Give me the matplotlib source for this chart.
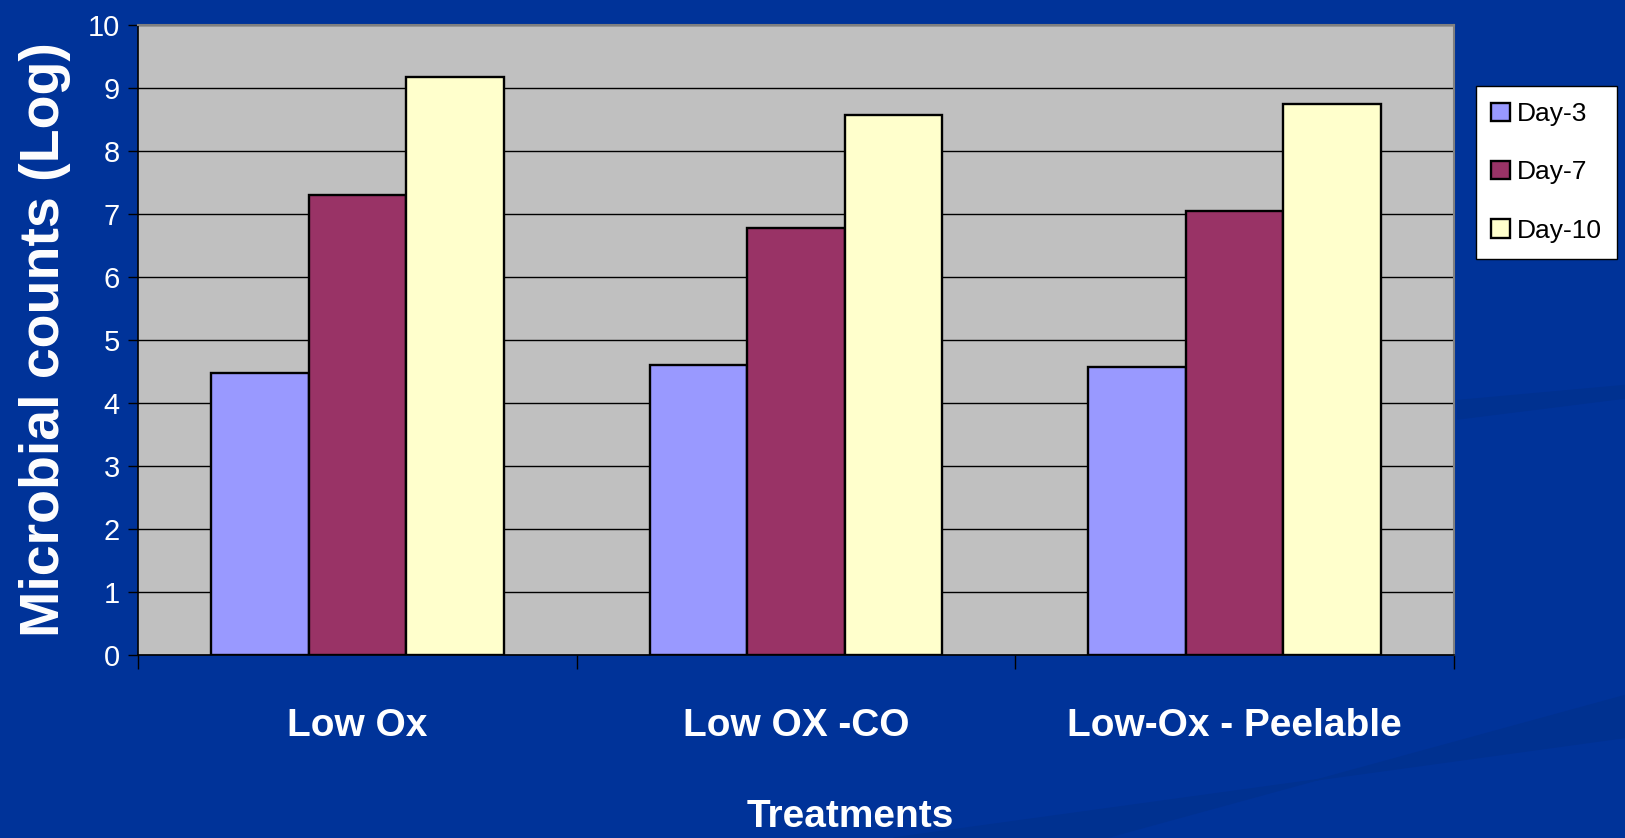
import numpy as np
import matplotlib
matplotlib.use("Agg")
import matplotlib.pyplot as plt
from matplotlib.patches import Polygon

treatments = ["Low Ox", "Low OX -CO", "Low-Ox - Peelable"]
days = ["Day-3", "Day-7", "Day-10"]
day3 = [4.47, 4.60, 4.57]
day7 = [7.30, 6.78, 7.04]
day10 = [9.18, 8.57, 8.75]
yticks = list(range(0, 11))

colors = ["#9999FF", "#993366", "#FFFFCC"]
bg = "#003399"
swoosh = "#003190"

plt.rcParams['font.family'] = ['Liberation Sans', 'DejaVu Sans']

fig = plt.figure(figsize=(16.25, 8.38), dpi=100, facecolor=bg)

# faint darker bands in the slide background, lower right
fig.patches.append(Polygon([[0.55, 0.0], [1.0, 0.12], [1.0, 0.17], [0.68, 0.0]],
                           closed=True, transform=fig.transFigure, color=swoosh, zorder=-1))
fig.patches.append(Polygon([[0.897, 0.50], [1.0, 0.525], [1.0, 0.54], [0.897, 0.522]],
                           closed=True, transform=fig.transFigure, color=swoosh, zorder=-1))

ax = fig.add_axes([0.0849, 0.2184, 0.8099, 0.7518])
ax.set_facecolor("#C0C0C0")

x = np.arange(len(treatments))
width = 1 / 4.5
for i, (vals, lab) in enumerate(zip([day3, day7, day10], days)):
    ax.bar(x + (i - 1) * width, vals, width, color=colors[i], edgecolor="black",
           linewidth=1.7, label=lab, zorder=3)

ax.set_xlim(-0.5, len(treatments) - 0.5)
ax.set_ylim(0, 10)
ax.set_yticks(yticks)
ax.yaxis.grid(True, color="black", linewidth=1.0, zorder=1)
ax.set_axisbelow(True)

# category labels sit between boundary ticks
ax.set_xticks(np.arange(-0.5, len(treatments)), minor=False)
ax.set_xticklabels([])
ax.set_xticks(x, minor=True)
ax.set_xticklabels(treatments, minor=True, color="white", fontsize=28, fontweight="bold")
ax.tick_params(axis="x", which="minor", length=0, pad=38)
ax.tick_params(axis="x", which="major", length=10, width=1, color="black", direction="out")
ax.tick_params(axis="y", length=7, width=1, color="black", labelcolor="white", labelsize=21, pad=6)

for side in ["left", "bottom"]:
    ax.spines[side].set_color("black")
    ax.spines[side].set_linewidth(1.2)
for side in ["top", "right"]:
    ax.spines[side].set_color("#808080")
    ax.spines[side].set_linewidth(1.5)

ax.set_ylabel("Microbial counts (Log)", color="white", fontsize=40, fontweight="bold", labelpad=12)
fig.text(0.5235, 0.025, "Treatments", color="white", fontsize=28, fontweight="bold",
         ha="center", va="center")

leg = fig.legend(loc="upper left", bbox_to_anchor=(0.908, 0.897), fontsize=19,
                 frameon=True, fancybox=False, edgecolor="black", facecolor="white",
                 framealpha=1, handlelength=0.7, handleheight=0.7, handletextpad=0.25,
                 labelspacing=1.3, borderpad=0.6, borderaxespad=0)
leg.get_frame().set_linewidth(1.0)

fig.savefig("out.png", dpi=100, facecolor=bg)
